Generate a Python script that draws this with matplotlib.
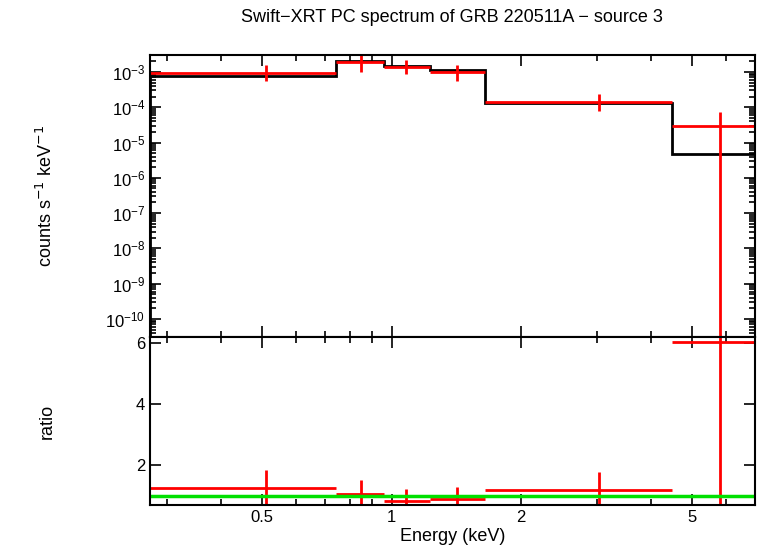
import numpy as np
import matplotlib
matplotlib.use("Agg")
import matplotlib.pyplot as plt
from matplotlib.ticker import LogLocator, NullFormatter, FixedLocator, FixedFormatter

plt.rcParams["font.family"] = "Liberation Sans"

edges = [0.274, 0.741, 0.958, 1.226, 1.645, 4.48, 7.0]
centers = [0.51, 0.847, 1.08, 1.42, 3.04, 5.8]
rate = [9.4e-4, 1.9e-3, 1.39e-3, 1.0e-3, 1.41e-4, 2.96e-5]
rate_lo = [5.6e-4, 1.0e-3, 8.5e-4, 5.6e-4, 7.8e-5, 1e-11]
rate_hi = [1.6e-3, 3.6e-3, 2.2e-3, 1.6e-3, 2.3e-4, 7.5e-5]
model = [7.7e-4, 2.05e-3, 1.48e-3, 1.14e-3, 1.33e-4, 4.7e-6]
ratio = [1.25, 1.05, 0.82, 0.89, 1.18, 6.03]
ratio_lo = [0.6, 0.6, 0.6, 0.6, 0.6, 0.6]
ratio_hi = [1.84, 1.51, 1.21, 1.28, 1.77, 6.5]

fig = plt.figure(figsize=(7.58, 5.56), dpi=100)
ax1 = fig.add_axes([150/758, 1-337/556, 605/758, 282/556])
ax2 = fig.add_axes([150/758, 1-505/556, 605/758, 168/556], sharex=ax1)

xl = np.array(edges[:-1]); xr = np.array(edges[1:]); c = np.array(centers)
r = np.array(rate)
ax1.errorbar(c, r, xerr=[c - xl, xr - c], yerr=[r - np.array(rate_lo), np.array(rate_hi) - r],
             fmt="none", ecolor="red", elinewidth=2)
ax1.stairs(model, edges, color="black", lw=2)
ax1.set_xscale("log"); ax1.set_yscale("log")
ax1.set_xlim(edges[0], edges[-1])
ax1.set_ylim(10**-10.51, 10**-2.52)
ax1.yaxis.set_major_locator(LogLocator(numticks=20))
ax1.yaxis.set_minor_locator(LogLocator(subs=np.arange(2, 10), numticks=20))
ax1.yaxis.set_minor_formatter(NullFormatter())
ax1.set_ylabel("counts s$^{-1}$ keV$^{-1}$", fontsize=13)
ax1.tick_params(labelbottom=False)

rt = np.array(ratio)
ax2.errorbar(c, rt, xerr=[c - xl, xr - c], yerr=[rt - np.array(ratio_lo), np.array(ratio_hi) - rt],
             fmt="none", ecolor="red", elinewidth=2)
ax2.axhline(1.0, color="#00e000", lw=2.5)
ax2.set_ylim(0.69, 6.2)
ax2.set_yticks([2, 4, 6])
ax2.set_ylabel("ratio", fontsize=13)
ax2.set_xlabel("Energy (keV)", fontsize=13, labelpad=2)
ax2.xaxis.set_major_locator(FixedLocator([0.5, 1, 2, 5]))
ax2.xaxis.set_major_formatter(FixedFormatter(["0.5", "1", "2", "5"]))
ax2.xaxis.set_minor_locator(LogLocator(subs=np.arange(1, 10), numticks=20))
ax2.xaxis.set_minor_formatter(NullFormatter())

for ax in (ax1, ax2):
    ax.tick_params(which="both", direction="in", top=True, right=True, labelsize=12, width=1.2)
    ax.tick_params(which="major", length=8)
    ax.tick_params(which="minor", length=4)
    for s in ax.spines.values():
        s.set_linewidth(1.5)
ax1.yaxis.set_label_coords(-0.155, 0.5)
ax2.yaxis.set_label_coords(-0.155, 0.5)

fig.text(452/758, 1-18/556, "Swift\u2212XRT PC spectrum of GRB 220511A \u2212 source 3",
         ha="center", va="center", fontsize=13)
fig.savefig("out.png", dpi=100)
